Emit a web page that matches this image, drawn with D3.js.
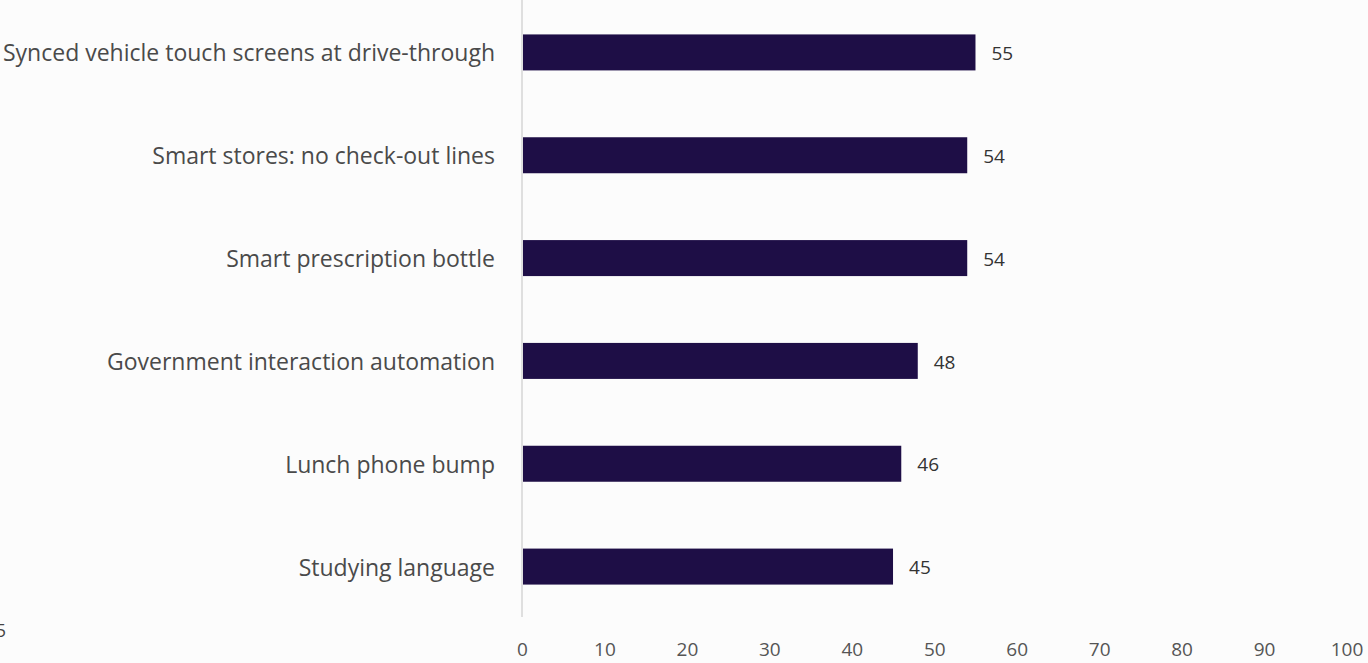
<!DOCTYPE html>
<html><head><meta charset="utf-8">
<script src="https://cdn.jsdelivr.net/npm/d3@7"></script>
<style>
html,body{margin:0;padding:0;background:#fcfcfc;}
svg{display:block;}
</style></head>
<body>
<script>
const categories = ["Synced vehicle touch screens at drive-through","Smart stores: no check-out lines","Smart prescription bottle","Government interaction automation","Lunch phone bump","Studying language"];
const values = [55,54,54,48,46,45];
const tickValues = [0,10,20,30,40,50,60,70,80,90,100];

const W = 1368, H = 663;
const svg = d3.select("body").append("svg").attr("width", W).attr("height", H);
const font = "'Open Sans', sans-serif";

const x = d3.scaleLinear().domain([0,100]).range([522, 1346.5]);
const y = d3.scaleBand().domain(categories).range([1, 618]).paddingInner(0.65).paddingOuter(0.325);

// baseline
svg.append("line").attr("x1", x(0)).attr("x2", x(0)).attr("y1", 0).attr("y2", 617)
  .attr("stroke", "#d6d6d6").attr("stroke-width", 1.5);

svg.selectAll("rect.bar").data(values).join("rect").attr("class","bar")
  .attr("x", x(0) + 1).attr("y", (d,i) => y(categories[i]))
  .attr("width", d => x(d) - x(0) - 1).attr("height", y.bandwidth())
  .attr("fill", "#1e0e46");

svg.selectAll("text.cat").data(categories).join("text").attr("class","cat")
  .attr("x", 495).attr("y", d => y(d) + y.bandwidth()/2 + 1).attr("dy","0.35em")
  .attr("text-anchor","end").attr("font-family", font).attr("font-size", 23)
  .attr("fill","#4a4a4a").text(d => d);

svg.selectAll("text.val").data(values).join("text").attr("class","val")
  .attr("x", d => x(d) + 16).attr("y", (d,i) => y(categories[i]) + y.bandwidth()/2 + 1).attr("dy","0.35em")
  .attr("font-family", font).attr("font-size", 19).attr("fill","#333").text(d => d);

const axis = d3.axisBottom(x).tickValues(tickValues).tickSize(0).tickPadding(0);
const g = svg.append("g").attr("transform","translate(0,642)").call(axis);
g.select(".domain").remove();
g.selectAll("text").attr("font-family", font).attr("font-size", 19).attr("fill","#555").attr("dy","0.71em");

svg.append("text").attr("x", 6).attr("y", 637).attr("text-anchor","end")
  .attr("font-family", font).attr("font-size", 18).attr("fill","#444").text("5");
</script>
</body></html>
